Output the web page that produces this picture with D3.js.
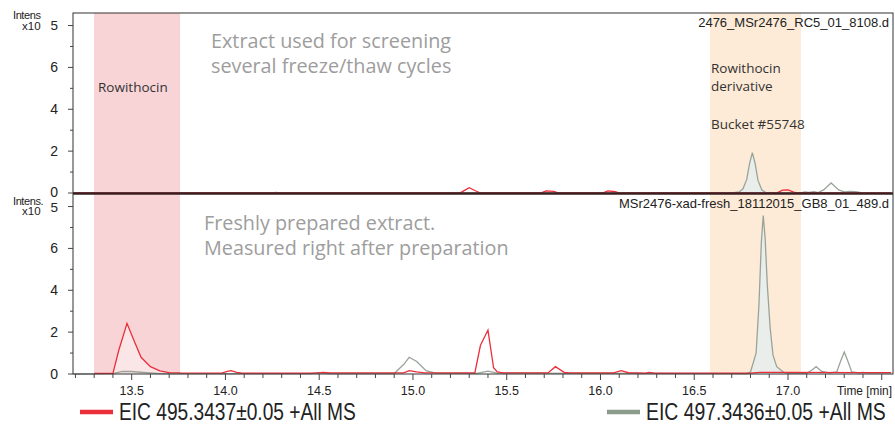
<!DOCTYPE html>
<html>
<head>
<meta charset="utf-8">
<script src="https://cdn.jsdelivr.net/npm/d3@7"></script>
<style>
body { margin: 0; background: #fff; }
svg { display: block; }
</style>
</head>
<body>
<script>

// EIC traces, [time (min), intensity x10^5]
const topRed = [[13.19,0],[15.25,0],[15.28,0.15],[15.30,0.25],[15.33,0.12],[15.36,0],[15.68,0],[15.71,0.1],[15.75,0.08],[15.78,0],
  [16.01,0],[16.04,0.1],[16.08,0.06],[16.10,0],[16.94,0],[16.97,0.14],[17.0,0.15],[17.03,0.04],[17.05,0],[17.55,0]];
const topGray = [[13.19,0],[14.25,0],[14.27,0.03],[14.29,0],[16.70,0],[16.74,0.05],[16.76,0.2],[16.78,0.65],[16.795,1.4],[16.81,1.93],
  [16.825,1.4],[16.84,0.6],[16.86,0.15],[16.88,0.03],[16.92,0],[17.07,0],[17.09,0.05],[17.11,0.03],[17.14,0.06],[17.16,0.02],
  [17.19,0.15],[17.23,0.48],[17.27,0.15],[17.30,0.05],[17.33,0.08],[17.36,0.06],[17.39,0.02]];
const botRed = [[13.30,0.03],[13.40,0.03],[13.43,1.1],[13.475,2.42],[13.51,1.65],[13.55,0.8],[13.60,0.35],[13.65,0.15],[13.70,0.07],
  [13.76,0.05],[13.98,0.04],[14.01,0.12],[14.03,0.16],[14.06,0.08],[14.09,0.04],[14.48,0.04],[14.52,0.08],[14.56,0.05],[14.95,0.05],
  [14.98,0.16],[15.02,0.1],[15.06,0.05],[15.33,0.05],[15.36,1.37],[15.40,2.1],[15.43,0.3],[15.45,0.1],[15.48,0.05],[15.72,0.05],
  [15.76,0.35],[15.81,0.06],[15.84,0.05],[16.07,0.05],[16.11,0.16],[16.15,0.06],[16.24,0.04],[16.26,0.08],[16.29,0.04],[16.80,0.04],
  [16.85,0.08],[17.0,0.08],[17.4,0.07],[17.55,0.07]];
const botGray = [[13.19,0],[13.40,0.02],[13.45,0.12],[13.50,0.12],[13.58,0.06],[13.65,0.02],[14.45,0.02],[14.50,0.06],[14.55,0.02],
  [14.90,0.02],[14.95,0.45],[14.98,0.8],[15.02,0.6],[15.07,0.16],[15.12,0.04],[15.34,0.03],[15.40,0.14],[15.45,0.04],[16.78,0.02],
  [16.80,0.1],[16.83,1.0],[16.845,3.3],[16.858,6.3],[16.868,7.57],[16.878,6.5],[16.89,4.2],[16.905,2.2],[16.92,0.9],[16.94,0.35],
  [16.96,0.2],[16.98,0.06],[17.0,0.03],[17.10,0.03],[17.13,0.2],[17.15,0.35],[17.18,0.12],[17.22,0.05],[17.26,0.1],[17.28,0.6],
  [17.30,1.05],[17.32,0.6],[17.34,0.1],[17.38,0.05],[17.40,0.08],[17.43,0.05],[17.55,0.05]];

const rowithocinBand = [13.299, 13.758];
const derivativeBand = [16.584, 17.069];

const xTicks = [13.5, 14.0, 14.5, 15.0, 15.5, 16.0, 16.5, 17.0];
const yTicks = [0, 2, 4, 6];

const files = ["2476_MSr2476_RC5_01_8108.d", "MSr2476-xad-fresh_18112015_GB8_01_489.d"];
const notes = [["Extract used for screening", "several freeze/thaw cycles"],
               ["Freshly prepared extract.", "Measured right after preparation"]];
const legend = ["EIC 495.3437\u00b10.05 +All MS", "EIC 497.3436\u00b10.05 +All MS"];

const width = 895, height = 434;
const left = 73, right = 893;
const red = "#ea2f3b", gray = "#9aa39a";

let svg = d3.select("body").append("svg")
    .attr("width", width)
    .attr("height", height)
    .style("font-family", "'Liberation Sans', Arial, sans-serif");

let x = d3.scaleLinear()
    .domain([13.187, 17.56])
    .range([left, right]);

let panels = [
    {top: 13, bottom: 193, red: topRed, gray: topGray, file: files[0], note: notes[0], noteX: 211, noteY: 40,
     intens: "Intens", intensY: 14.5, x10Y: 25.5, expY: 25},
    {top: 194, bottom: 374, red: botRed, gray: botGray, file: files[1], note: notes[1], noteX: 204, noteY: 222,
     intens: "Intens.", intensY: 200.5, x10Y: 211, expY: 207.5}
];
panels.forEach(p => {
    p.y = d3.scaleLinear().domain([0, 8.6]).range([p.bottom, p.top]);
});

// highlight bands over both panels
svg.append("rect")
    .attr("x", x(rowithocinBand[0]))
    .attr("y", 13)
    .attr("width", x(rowithocinBand[1]) - x(rowithocinBand[0]))
    .attr("height", 361)
    .attr("fill", "#f9d4d7");
svg.append("rect")
    .attr("x", x(derivativeBand[0]))
    .attr("y", 13)
    .attr("width", x(derivativeBand[1]) - x(derivativeBand[0]))
    .attr("height", 361)
    .attr("fill", "#fdebd7");

let defs = svg.append("defs");
panels.forEach((p, i) => {
    defs.append("clipPath").attr("id", "panel" + i)
        .append("rect").attr("x", left).attr("y", p.top)
        .attr("width", right - left).attr("height", p.bottom - p.top + 1);
    defs.append("clipPath").attr("id", "redband" + i)
        .append("rect").attr("x", x(rowithocinBand[0])).attr("y", p.top)
        .attr("width", x(rowithocinBand[1]) - x(rowithocinBand[0])).attr("height", p.bottom - p.top);
    defs.append("clipPath").attr("id", "grayband" + i)
        .append("rect").attr("x", x(derivativeBand[0])).attr("y", p.top)
        .attr("width", x(derivativeBand[1]) - x(derivativeBand[0])).attr("height", p.bottom - p.top);
});

panels.forEach((p, i) => {
    let line = d3.line().x(d => x(d[0])).y(d => p.y(d[1]));
    let area = d3.area().x(d => x(d[0])).y0(p.y(0)).y1(d => p.y(d[1]));

    svg.append("path").datum(p.red)
        .attr("d", area).attr("fill", "#fbe6e7")
        .attr("clip-path", "url(#redband" + i + ")");
    svg.append("path").datum(p.gray)
        .attr("d", area).attr("fill", "#e9eeea")
        .attr("clip-path", "url(#grayband" + i + ")");

    let g = svg.append("g").attr("clip-path", "url(#panel" + i + ")");
    g.append("path").datum(p.gray)
        .attr("d", line).attr("fill", "none")
        .attr("stroke", gray).attr("stroke-width", 1.3);
    g.append("path").datum(p.red)
        .attr("d", line).attr("fill", "none")
        .attr("stroke", red).attr("stroke-width", 1.3);

    // frame
    svg.append("rect")
        .attr("x", left).attr("y", p.top)
        .attr("width", right - left).attr("height", p.bottom - p.top)
        .attr("fill", "none").attr("stroke", "#333").attr("stroke-width", 1);

    // y ticks
    let yAxis = svg.append("g").attr("stroke", "#444");
    d3.range(0, 9).forEach(v => {
        yAxis.append("line")
            .attr("x1", left - (v % 2 === 0 ? 5 : 3)).attr("x2", left)
            .attr("y1", p.y(v)).attr("y2", p.y(v));
    });
    svg.append("g").selectAll("text")
        .data(yTicks)
        .enter()
        .append("text")
        .attr("x", 58)
        .attr("y", d => p.y(d) - (i === 0 && d === 0 ? 1 : 0))
        .attr("text-anchor", "end")
        .attr("dominant-baseline", "central")
        .attr("font-size", 14)
        .attr("fill", "#222")
        .text(d => d);

    // intensity unit label
    svg.append("text").attr("x", 13).attr("y", p.intensY)
        .attr("dominant-baseline", "central").attr("font-size", 11)
        .attr("letter-spacing", -0.4)
        .attr("fill", "#222").text(p.intens);
    svg.append("text").attr("x", 22).attr("y", p.x10Y)
        .attr("dominant-baseline", "central").attr("font-size", 11.5)
        .attr("fill", "#222").text("x10");
    svg.append("text").attr("x", 58).attr("y", p.expY)
        .attr("text-anchor", "end")
        .attr("dominant-baseline", "central").attr("font-size", 13.5)
        .attr("fill", "#222").text("5");

    // file name
    svg.append("text").attr("x", 889).attr("y", p.top + 9)
        .attr("text-anchor", "end").attr("dominant-baseline", "central")
        .attr("font-size", 13).attr("fill", "#222").text(p.file);

    // note
    svg.append("g").selectAll("text")
        .data(p.note)
        .enter()
        .append("text")
        .attr("x", p.noteX)
        .attr("y", (d, j) => p.noteY + j * 25.5)
        .attr("dominant-baseline", "central")
        .attr("font-family", "'Open Sans', sans-serif")
        .attr("font-size", 19.8)
        .attr("fill", "#9d9d9d")
        .text(d => d);
});

// boundary between panels
svg.append("line")
    .attr("x1", left).attr("x2", right)
    .attr("y1", 193.5).attr("y2", 193.5)
    .attr("stroke", "#3b1d1f").attr("stroke-width", 2);

// band labels
svg.append("text").attr("x", 98).attr("y", 87)
    .attr("dominant-baseline", "central")
    .attr("font-family", "'Open Sans', sans-serif").attr("font-size", 13.5)
    .attr("fill", "#333").text("Rowithocin");
svg.append("g").selectAll("text")
    .data(["Rowithocin", "derivative", "Bucket #55748"])
    .enter()
    .append("text")
    .attr("x", 711)
    .attr("y", (d, i) => [68, 86, 124][i])
    .attr("dominant-baseline", "central")
    .attr("font-family", "'Open Sans', sans-serif")
    .attr("font-size", 13.5)
    .attr("fill", "#333")
    .text(d => d);

// x axis
let xAxis = svg.append("g").attr("stroke", "#444");
d3.range(132, 176).forEach(k => {
    let t = k / 10;
    xAxis.append("line")
        .attr("x1", x(t)).attr("x2", x(t))
        .attr("y1", 374).attr("y2", 374 + (k % 5 === 0 ? 6 : 4));
});
svg.append("g").selectAll("text")
    .data(xTicks)
    .enter()
    .append("text")
    .attr("x", d => x(d))
    .attr("y", 391)
    .attr("text-anchor", "middle")
    .attr("dominant-baseline", "central")
    .attr("font-size", 12.5)
    .attr("fill", "#222")
    .text(d => d3.format(".1f")(d));
svg.append("text").attr("x", 892).attr("y", 391)
    .attr("text-anchor", "end").attr("dominant-baseline", "central")
    .attr("font-size", 12).attr("textLength", 55).attr("lengthAdjust", "spacingAndGlyphs")
    .attr("fill", "#222").text("Time [min]");

// legend (condensed look: squeeze text horizontally to the target width)
let legendItems = [{x: 80, color: red, label: legend[0], len: 237}, {x: 607, color: "#8c9c8c", label: legend[1], len: 240}];
legendItems.forEach(d => {
    svg.append("line")
        .attr("x1", d.x).attr("x2", d.x + 33)
        .attr("y1", 412).attr("y2", 412)
        .attr("stroke", d.color).attr("stroke-width", 4.5);
    let t = svg.append("text")
        .attr("x", 0).attr("y", 0)
        .attr("dominant-baseline", "central")
        .attr("font-size", 23)
        .attr("fill", "#222")
        .text(d.label);
    let sx = d.len / t.node().getComputedTextLength();
    t.attr("transform", "translate(" + (d.x + 39) + ",412) scale(" + sx + ",1)");
});

</script>
</body>
</html>
